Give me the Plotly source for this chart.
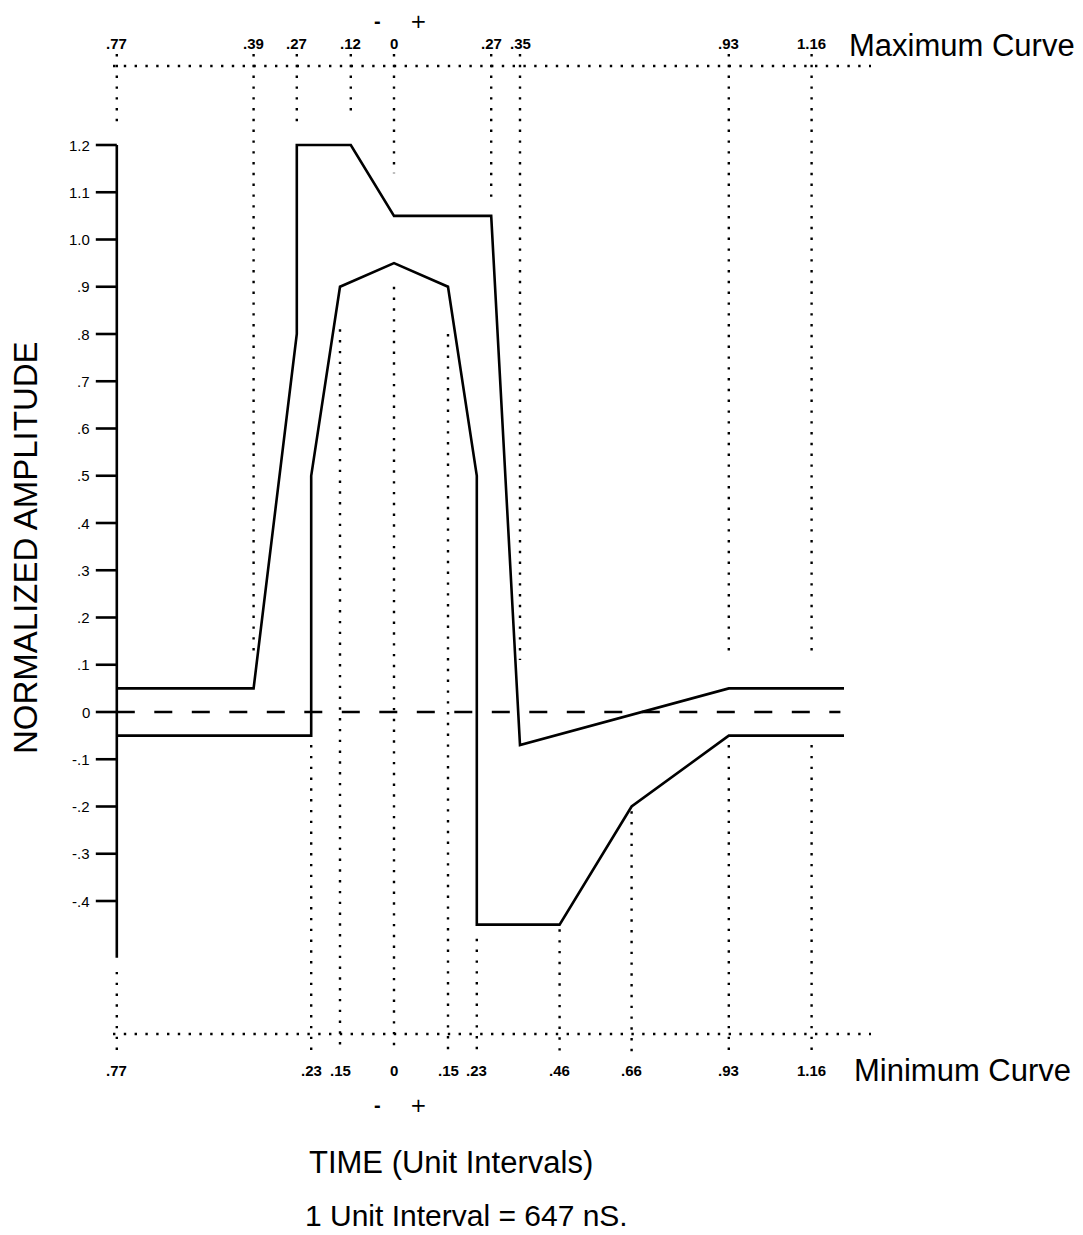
import plotly.graph_objects as go

# ---------------- data (time in unit intervals, normalized amplitude) ----------------
max_time = [-0.77, -0.39, -0.27, -0.27, -0.12, 0.0, 0.27, 0.35, 0.93, 1.25]
max_amp = [0.05, 0.05, 0.80, 1.20, 1.20, 1.05, 1.05, -0.07, 0.05, 0.05]

min_time = [-0.77, -0.23, -0.23, -0.15, 0.0, 0.15, 0.23, 0.23, 0.46, 0.66, 0.93, 1.25]
min_amp = [-0.05, -0.05, 0.50, 0.90, 0.95, 0.90, 0.50, -0.45, -0.45, -0.20, -0.05, -0.05]

zero_time = [-0.77, 1.24]
zero_amp = [0.0, 0.0]

ytick_vals = [1.2, 1.1, 1.0, 0.9, 0.8, 0.7, 0.6, 0.5, 0.4, 0.3, 0.2, 0.1, 0.0,
              -0.1, -0.2, -0.3, -0.4]
ytick_text = ["1.2", "1.1", "1.0", ".9", ".8", ".7", ".6", ".5", ".4", ".3", ".2", ".1", "0",
              "-.1", "-.2", "-.3", "-.4"]

# maximum-curve time marks (top) and how far their guide lines reach down
top_times = [-0.77, -0.39, -0.27, -0.12, 0.0, 0.27, 0.35, 0.93, 1.16]
top_labels = [".77", ".39", ".27", ".12", "0", ".27", ".35", ".93", "1.16"]
top_guide_low = [1.24, 0.12, 1.25, 1.26, 1.14, 1.09, 0.11, 0.12, 0.12]

# minimum-curve time marks (bottom) and how far their guide lines reach up
bot_times = [-0.77, -0.23, -0.15, 0.0, 0.15, 0.23, 0.46, 0.66, 0.93, 1.16]
bot_labels = [".77", ".23", ".15", "0", ".15", ".23", ".46", ".66", ".93", "1.16"]
bot_guide_high = [-0.55, -0.07, 0.81, 0.90, 0.80, -0.48, -0.46, -0.21, -0.07, -0.07]

# ---------------- geometry of the page (pixel mapping) ----------------
PAGE_W, PAGE_H = 1083, 1235
BODY = 8                     # default page margin around the plot div
W, H = PAGE_W - BODY, PAGE_H - BODY
X0, XS = 394.0, 360.0      # page pixel of t=0, pixels per unit interval
Y0, YS = 712.0, 472.5      # page pixel of amplitude 0, pixels per unit amplitude


def tx(px):
    return (px - X0) / XS


def ay(py):
    return (Y0 - py) / YS


FONT = "Liberation Sans, Arial, sans-serif"
fig = go.Figure()


def add_line(xs, ys, width=2.6, dash=None):
    fig.add_trace(go.Scatter(x=xs, y=ys, mode="lines", hoverinfo="skip", showlegend=False,
                             line=dict(color="black", width=width, dash=dash)))


DOT = "2.4px,8.4px"

# top / bottom horizontal dotted rules
add_line([tx(113), tx(871)], [ay(66), ay(66)], 2.4, DOT)
add_line([tx(113), tx(871)], [ay(1034), ay(1034)], 2.4, DOT)

# vertical dotted guides (top)
gx, gy = [], []
for t, lo in zip(top_times, top_guide_low):
    gx += [t, t, None]
    gy += [ay(54), lo, None]
add_line(gx, gy, 2.4, DOT)

# vertical dotted guides (bottom)
gx, gy = [], []
for t, hi in zip(bot_times, bot_guide_high):
    gx += [t, t, None]
    gy += [hi, ay(1052), None]
add_line(gx, gy, 2.4, DOT)

# y axis line and ticks
add_line([-0.77, -0.77], [1.2, -0.52], 2.6)
kx, ky = [], []
for v in ytick_vals:
    kx += [-0.77 - 21 / XS, -0.77, None]
    ky += [v, v, None]
add_line(kx, ky, 2.6)

# zero reference (dashed)
add_line(zero_time, zero_amp, 2.4, "18px,19.5px")

# mask curves
add_line(max_time, max_amp, 2.6)
add_line(min_time, min_amp, 2.6)

ann = []
for v, s in zip(ytick_vals, ytick_text):
    ann.append(dict(x=-0.77 - 25 / XS, y=v, text=s, xanchor="right", yanchor="middle",
                    showarrow=False, font=dict(family=FONT, size=15, color="black")))

for t, s in zip(top_times, top_labels):
    ann.append(dict(x=t, y=ay(43), text=s, xanchor="center", yanchor="middle", showarrow=False,
                    font=dict(family=FONT, size=15, color="black", weight="bold")))
for t, s in zip(bot_times, bot_labels):
    ann.append(dict(x=t, y=ay(1070), text=s, xanchor="center", yanchor="middle", showarrow=False,
                    font=dict(family=FONT, size=15, color="black", weight="bold")))

big = dict(family=FONT, size=31, color="black")
ann.append(dict(x=tx(847), y=ay(45), text="Maximum Curve", xanchor="left", yanchor="middle",
                showarrow=False, font=big))
ann.append(dict(x=tx(852), y=ay(1070), text="Minimum Curve", xanchor="left", yanchor="middle",
                showarrow=False, font=big))
ann.append(dict(x=tx(451), y=ay(1162), text="TIME (Unit Intervals)", xanchor="center",
                yanchor="middle", showarrow=False, font=big))
ann.append(dict(x=tx(466), y=ay(PAGE_H - 1), text="1 Unit Interval = 647 nS.", xanchor="center",
                yanchor="bottom", showarrow=False,
                font=dict(family=FONT, size=30, color="black")))
ann.append(dict(x=tx(25), y=ay(548), text="NORMALIZED AMPLITUDE", textangle=-90,
                xanchor="center", yanchor="middle", showarrow=False,
                font=dict(family=FONT, size=33, color="black")))

# sign markers around t = 0
for py in (21, 1105):
    ann.append(dict(x=tx(377), y=ay(py), text="-", xanchor="center", yanchor="middle",
                    showarrow=False, font=dict(family=FONT, size=20, color="black",
                                               weight="bold")))
    ann.append(dict(x=tx(418), y=ay(py), text="+", xanchor="center", yanchor="middle",
                    showarrow=False, font=dict(family="DejaVu Sans", size=20, color="black",
                                               weight="normal")))

fig.update_layout(
    width=W, height=H,
    margin=dict(l=0, r=0, t=0, b=0, pad=0),
    paper_bgcolor="white", plot_bgcolor="white",
    xaxis=dict(range=[tx(BODY), tx(PAGE_W)], visible=False, fixedrange=True),
    yaxis=dict(range=[ay(PAGE_H), ay(BODY)], visible=False, fixedrange=True),
    annotations=ann,
    showlegend=False,
)

fig.write_html("out.html")
